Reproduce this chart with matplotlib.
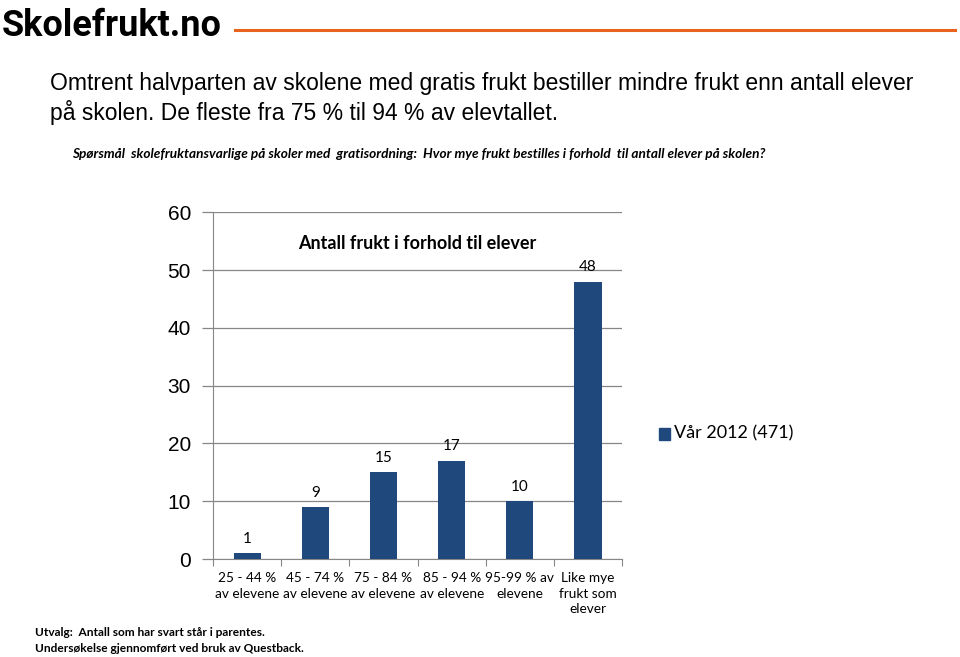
import matplotlib
matplotlib.use('Agg')
import matplotlib.pyplot as plt
import numpy as np

# Data
categories = ['25 - 44 %\nav elevene', '45 - 74 %\nav elevene', '75 - 84 %\nav elevene',
              '85 - 94 %\nav elevene', '95-99 % av\nelevene', 'Like mye\nfrukt som\nelever']
values = [1, 9, 15, 17, 10, 48]
series_name = 'Vår 2012 (471)'
y_ticks = [0, 10, 20, 30, 40, 50, 60]

bar_color = '#1F497D'
grid_color = '#878787'

fig = plt.figure(figsize=(9.6, 6.57), dpi=100)

# Header: logo and orange rule
fig.text(0.002, 0.960, 'Skolefrukt.no', fontsize=26, fontweight='bold',
         family='Roboto', va='center', ha='left', color='black')
fig.add_artist(plt.Line2D([0.245, 0.995], [0.954, 0.954], color='#E8641E', lw=2.2))

# Headline text
fig.text(0.052, 0.873, 'Omtrent halvparten av skolene med gratis frukt bestiller mindre frukt enn antall elever',
         fontsize=16.5, family='Liberation Sans', va='center', ha='left')
fig.text(0.052, 0.829, 'på skolen. De fleste fra 75 % til 94 % av elevtallet.',
         fontsize=16.5, family='Liberation Sans', va='center', ha='left')
fig.text(0.075, 0.765, 'Spørsmål  skolefruktansvarlige på skoler med  gratisordning:  Hvor mye frukt bestilles i forhold  til antall elever på skolen?',
         fontsize=9.8, family='Lato', fontweight='bold', style='italic', va='center', ha='left')

# Chart
ax = fig.add_axes([0.222, 0.149, 0.426, 0.528])
x = np.arange(len(categories))
bars = ax.bar(x, values, width=0.4, color=bar_color, zorder=3)
for xi, v in zip(x, values):
    ax.text(xi, v + 1.3, str(v), ha='center', va='bottom', fontsize=11, family='Lato')

ax.set_xlim(-0.5, len(categories) - 0.5)
ax.set_ylim(0, 60)
ax.set_yticks(y_ticks)
ax.set_yticklabels([str(t) for t in y_ticks], fontsize=15, family='Liberation Sans')
ax.yaxis.grid(True, color=grid_color, lw=0.9, zorder=0)
ax.tick_params(axis='y', length=8, width=0.9, color=grid_color, pad=8)
for side in ['top', 'right']:
    ax.spines[side].set_visible(False)
ax.spines['left'].set_color(grid_color)
ax.spines['bottom'].set_color(grid_color)

# category boundaries as tick marks, labels in the middle
ax.set_xticks(np.arange(-0.5, len(categories), 1.0))
ax.set_xticklabels([])
ax.tick_params(axis='x', length=5, color=grid_color, direction='out')
for xi, lab in zip(x, categories):
    ax.text(xi, -2.3, lab, ha='center', va='top', fontsize=9.8, family='Lato', linespacing=1.35)

ax.set_title('Antall frukt i forhold til elever', fontsize=13, fontweight='bold', family='Lato',
             y=0.87)

# Legend
fig.patches.append(plt.Rectangle((0.686, 0.331), 0.012, 0.018, color=bar_color,
                                 transform=fig.transFigure, figure=fig))
fig.text(0.702, 0.340, series_name, fontsize=13, family='Lato', va='center', ha='left')

# Footnotes
fig.text(0.036, 0.037, 'Utvalg:  Antall som har svart står i parentes.', fontsize=8.6,
         family='Lato', fontweight='bold', va='center', ha='left')
fig.text(0.036, 0.013, 'Undersøkelse gjennomført ved bruk av Questback.', fontsize=8.6,
         family='Lato', fontweight='bold', va='center', ha='left')

fig.savefig('out.png', dpi=100)
